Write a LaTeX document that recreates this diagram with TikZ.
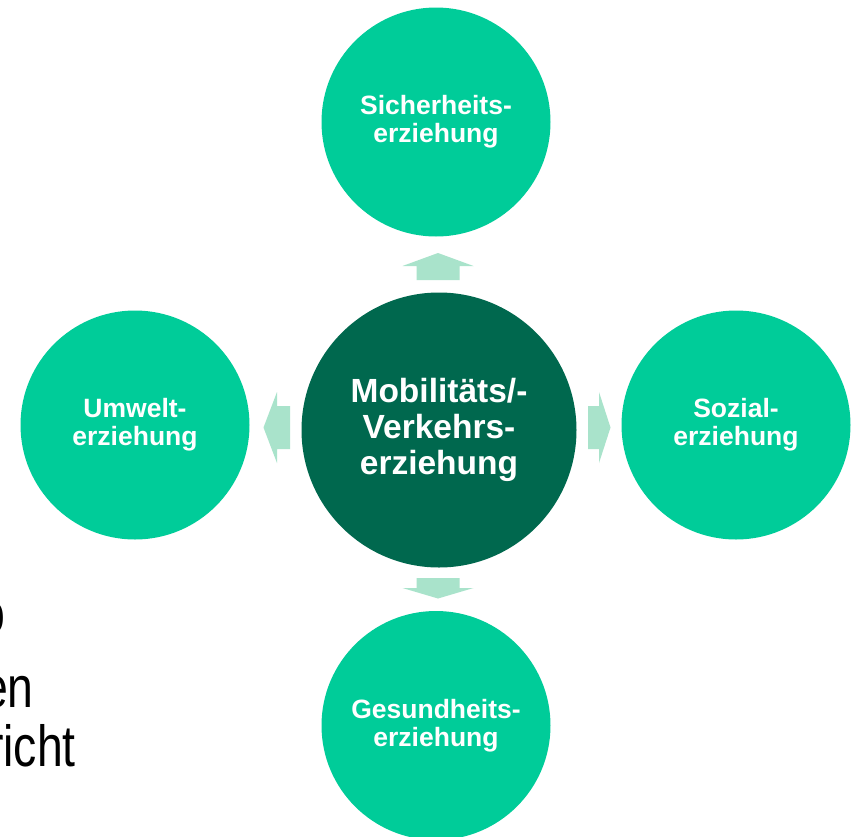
\documentclass[tikz,border=0pt]{standalone}
\usepackage{fontspec}
\setmainfont{Liberation Sans}
\usepackage{graphicx}
\definecolor{satgreen}{RGB}{0,204,153}
\definecolor{coregreen}{RGB}{0,104,78}
\definecolor{linkgreen}{RGB}{169,227,203}
\begin{document}
\begin{tikzpicture}[x=1pt,y=-1pt,
  satellite/.style={circle, fill=satgreen, minimum size=229pt, inner sep=0pt,
    text=white, align=center, font=\bfseries\fontsize{26.5}{28}\selectfont},
  core/.style={circle, fill=coregreen, minimum size=275pt, inner sep=0pt,
    text=white, align=center, font=\bfseries\fontsize{33.5}{36}\selectfont},
  linkarrow/.style={fill=linkgreen},
  backtext/.style={anchor=base west, inner sep=0pt, text=black,
    font=\fontsize{58}{60}\selectfont}]
% page frame
\clip (0,0) rectangle (852,836);
\fill[white] (0,0) rectangle (852,836);

% body text running off the left edge
\node[backtext] (fragA) at (-21,633) {\scalebox{0.8}[1]{o}};
\node[backtext] (fragB) at (-18,707) {\scalebox{0.8}[1]{en}};
\node[backtext] (fragC) at (-12,766) {\scalebox{0.8}[1]{richt}};

% circles
\node[core] (core) at (439,430) {Mobilitäts/-\\Verkehrs-\\erziehung};
\node[satellite] (safety) at (436,122) {Sicherheits-\\erziehung};
\node[satellite] (environ) at (135,425) {Umwelt-\\erziehung};
\node[satellite] (social) at (736,425) {Sozial-\\erziehung};
\node[satellite] (health) at (436,725.5) {Gesundheits-\\erziehung};

% block arrows pointing outwards
\fill[linkarrow] (416.5,280) -- (416.5,266) -- (402.5,266) -- (438,253)
  -- (473.5,266) -- (459.5,266) -- (459.5,280) -- cycle;
\fill[linkarrow] (416.5,578) -- (416.5,588) -- (402.5,588) -- (438,598.5)
  -- (473.5,588) -- (459.5,588) -- (459.5,578) -- cycle;
\fill[linkarrow] (290,406) -- (277,406) -- (277,392) -- (263.5,427.5)
  -- (277,463) -- (277,449) -- (290,449) -- cycle;
\fill[linkarrow] (588,406) -- (599,406) -- (599,392) -- (610.5,427.5)
  -- (599,463) -- (599,449) -- (588,449) -- cycle;
\end{tikzpicture}
\end{document}
